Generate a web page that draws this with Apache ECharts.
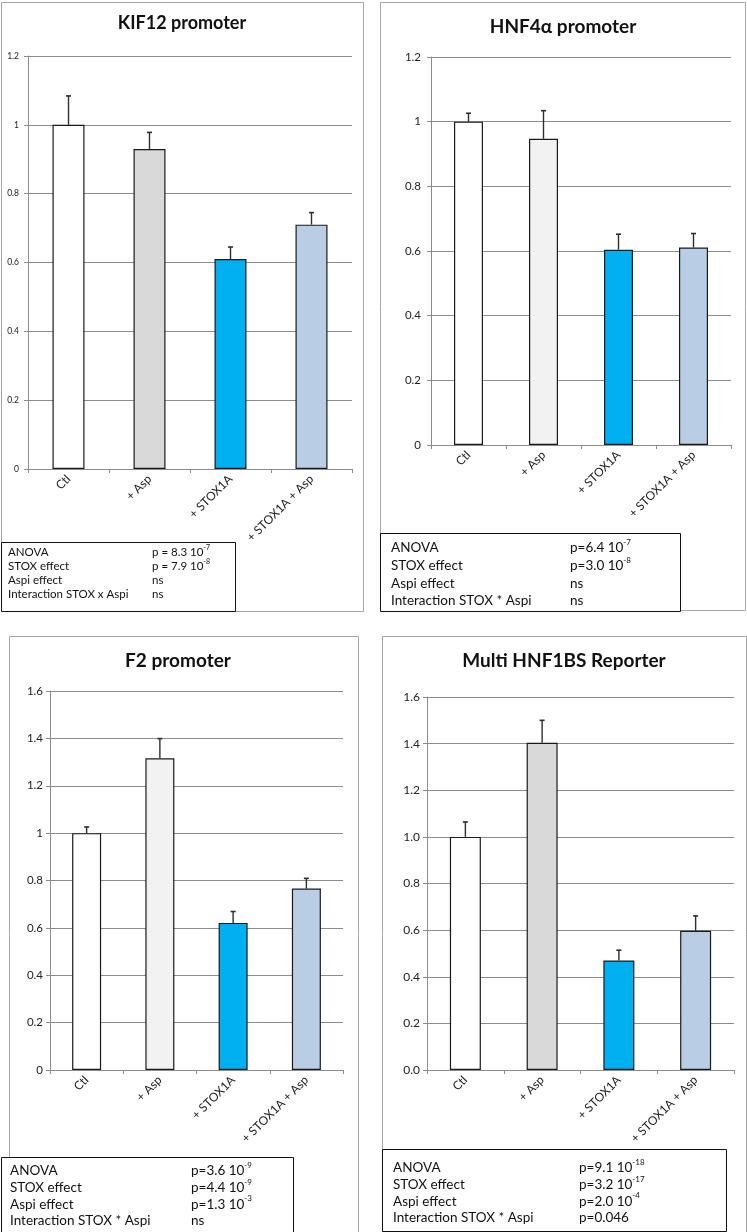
<!DOCTYPE html>
<html><head><meta charset="utf-8">
<script src="https://cdn.jsdelivr.net/npm/echarts@6/dist/echarts.min.js"></script>
<style>html,body{margin:0;padding:0;background:#fff}#c{width:747px;height:1232px}</style>
</head><body><div id="c"></div>
<script>
// ---------- DATA ----------
const categories = ['Ctl', '+ Asp', '+ STOX1A', '+ STOX1A + Asp'];

const kif12Values = [1.0, 0.93, 0.61, 0.71];
const kif12Errors = [0.084, 0.048, 0.035, 0.035];
const hnf4aValues = [1.0, 0.947, 0.604, 0.611];
const hnf4aErrors = [0.026, 0.087, 0.048, 0.043];
const f2Values = [1.0, 1.316, 0.621, 0.766];
const f2Errors = [0.026, 0.083, 0.048, 0.043];
const hnf1bsValues = [1.0, 1.404, 0.470, 0.597];
const hnf1bsErrors = [0.064, 0.096, 0.044, 0.064];

const kif12StatNames = ['ANOVA', 'STOX effect', 'Aspi effect', 'Interaction STOX x Aspi'];
const kif12StatValues = ['p = 8.3 10^-7', 'p = 7.9 10^-8', 'ns', 'ns'];
const hnf4aStatNames = ['ANOVA', 'STOX effect', 'Aspi effect', 'Interaction STOX * Aspi'];
const hnf4aStatValues = ['p=6.4 10^-7', 'p=3.0 10^-8', 'ns', 'ns'];
const f2StatNames = ['ANOVA', 'STOX effect', 'Aspi effect', 'Interaction STOX * Aspi'];
const f2StatValues = ['p=3.6 10^-9', 'p=4.4 10^-9', 'p=1.3 10^-3', 'ns'];
const hnf1bsStatNames = ['ANOVA', 'STOX effect', 'Aspi effect', 'Interaction STOX * Aspi'];
const hnf1bsStatValues = ['p=9.1 10^-18', 'p=3.2 10^-17', 'p=2.0 10^-4', 'p=0.046'];

const yTicksKif12 = { max: 1.2, step: 0.2 };
const yTicksHnf4a = { max: 1.2, step: 0.2 };
const yTicksF2 = { max: 1.6, step: 0.2 };
const yTicksHnf1bs = { max: 1.6, step: 0.2 };

// ---------- LAYOUT / STYLE ----------
const FONT = 'Lato';
const panels = [
  { title: 'KIF12 promoter', values: kif12Values, errors: kif12Errors, yt: yTicksKif12,
    names: kif12StatNames, stats: kif12StatValues,
    colors: ['#ffffff', '#d9d9d9', '#00b0f0', '#b9cde5'],
    box: [1, 2, 362, 609], titleXY: [182, 23], titleSize: 18,
    grid: { left: 28, top: 56, width: 324, height: 413 }, barWidth: 32,
    yFont: 8.5, yMargin: 9, xFont: 12, yFmt: null,
    table: [1, 542, 234, 69], tFont: 11.5, tRow0: 552, tRowH: 14, tCol1: 8, tCol2: 152 },
  { title: 'HNF4\u03b1 promoter', values: hnf4aValues, errors: hnf4aErrors, yt: yTicksHnf4a,
    names: hnf4aStatNames, stats: hnf4aStatValues,
    colors: ['#ffffff', '#f2f2f2', '#00b0f0', '#b9cde5'],
    box: [380, 2, 365, 608], titleXY: [563, 27], titleSize: 19,
    grid: { left: 431, top: 57, width: 300, height: 388 }, barWidth: 29,
    yFont: 11.5, yMargin: 10, xFont: 12, yFmt: null,
    table: [380, 533, 300, 78], tFont: 13.5, tRow0: 548, tRowH: 17.7, tCol1: 391, tCol2: 570 },
  { title: 'F2 promoter', values: f2Values, errors: f2Errors, yt: yTicksF2,
    names: f2StatNames, stats: f2StatValues,
    colors: ['#ffffff', '#f2f2f2', '#00b0f0', '#b9cde5'],
    box: [9, 636, 349, 596], titleXY: [178, 661], titleSize: 19,
    grid: { left: 50, top: 691, width: 293, height: 379 }, barWidth: 29,
    yFont: 11.5, yMargin: 7, xFont: 12, yFmt: null,
    table: [1, 1157, 292, 75], tFont: 13.5, tRow0: 1171, tRowH: 16.7, tCol1: 10, tCol2: 191 },
  { title: 'Multi HNF1BS Reporter', values: hnf1bsValues, errors: hnf1bsErrors, yt: yTicksHnf1bs,
    names: hnf1bsStatNames, stats: hnf1bsStatValues,
    colors: ['#ffffff', '#d9d9d9', '#00b0f0', '#b9cde5'],
    box: [382, 636, 364, 596], titleXY: [564, 661], titleSize: 19,
    grid: { left: 427, top: 697, width: 307, height: 373 }, barWidth: 31,
    yFont: 12, yMargin: 7, xFont: 12, yFmt: v => v.toFixed(1),
    table: [382, 1149, 344, 82], tFont: 13.5, tRow0: 1168, tRowH: 16.7, tCol1: 393, tCol2: 579 }
];

function toRich(s) {
  const i = s.indexOf('^');
  if (i < 0) return s;
  return s.slice(0, i) + '{sup|' + s.slice(i + 1) + '}';
}

function renderErr(params, api) {
  const x = api.value(0), v = api.value(1), t = api.value(2);
  const p0 = api.coord([x, v]);
  const p1 = api.coord([x, t]);
  return { type: 'group', children: [
    { type: 'line', shape: { x1: p0[0], y1: p0[1], x2: p1[0], y2: p1[1] }, style: { stroke: '#2e2e2e', lineWidth: 1.4 } },
    { type: 'line', shape: { x1: p1[0] - 2.5, y1: p1[1], x2: p1[0] + 2.5, y2: p1[1] }, style: { stroke: '#2e2e2e', lineWidth: 1.6 } }
  ]};
}

const grids = [], xAxes = [], yAxes = [], series = [], graphics = [];
panels.forEach((p, k) => {
  grids.push(p.grid);
  xAxes.push({
    type: 'category', gridIndex: k, data: categories, boundaryGap: true,
    axisLine: { lineStyle: { color: '#8c8c8c', width: 1 } },
    axisTick: { show: true, length: 4, alignWithLabel: false, lineStyle: { color: '#8c8c8c' } },
    axisLabel: { rotate: 45, interval: 0, fontFamily: FONT, fontSize: p.xFont, color: '#222', margin: 8 }
  });
  yAxes.push({
    type: 'value', gridIndex: k, min: 0, max: p.yt.max, interval: p.yt.step,
    axisLine: { show: true, lineStyle: { color: '#8c8c8c', width: 1 } },
    axisTick: { show: true, length: 4, lineStyle: { color: '#8c8c8c' } },
    splitLine: { show: true, lineStyle: { color: '#8c8c8c', width: 1 } },
    axisLabel: { fontFamily: FONT, fontSize: p.yFont, color: '#222', margin: p.yMargin,
      formatter: p.yFmt ? p.yFmt : (v => String(Math.round(v * 10) / 10)) }
  });
  series.push({
    type: 'bar', xAxisIndex: k, yAxisIndex: k, barWidth: p.barWidth, z: 2,
    data: p.values.map((v, i) => ({ value: v, itemStyle: { color: p.colors[i] } })),
    itemStyle: { borderColor: '#1a1a1a', borderWidth: 1.2 },
    emphasis: { disabled: true }, silent: true
  });
  series.push({
    type: 'custom', xAxisIndex: k, yAxisIndex: k, z: 3, silent: true,
    renderItem: renderErr, encode: { x: 0, y: [1, 2] },
    data: p.values.map((v, i) => [i, v, v + p.errors[i]])
  });
  graphics.push({ type: 'rect', shape: { x: p.box[0] + 0.5, y: p.box[1] + 0.5, width: p.box[2], height: p.box[3] },
    style: { fill: 'none', stroke: '#a6a6a6', lineWidth: 1 }, z: 0 });
  graphics.push({ type: 'text', x: p.titleXY[0], y: p.titleXY[1], z: 5,
    style: { text: p.title, fontFamily: FONT, fontWeight: 'bold', fontSize: p.titleSize, fill: '#111', align: 'center', verticalAlign: 'middle' } });
  graphics.push({ type: 'rect', shape: { x: p.table[0] + 0.5, y: p.table[1] + 0.5, width: p.table[2], height: p.table[3] },
    style: { fill: '#fff', stroke: '#111', lineWidth: 1 }, z: 5 });
  p.names.forEach((n, r) => {
    const y = p.tRow0 + r * p.tRowH;
    graphics.push({ type: 'text', x: p.tCol1, y: y, z: 6,
      style: { text: n, fontFamily: FONT, fontSize: p.tFont, fill: '#111', align: 'left', verticalAlign: 'middle' } });
    graphics.push({ type: 'text', x: p.tCol2, y: y, z: 6,
      style: { text: toRich(p.stats[r]), fontFamily: FONT, fontSize: p.tFont, fill: '#111', align: 'left', verticalAlign: 'middle',
        rich: { sup: { fontFamily: FONT, fontSize: Math.round(p.tFont * 0.62), fill: '#111', verticalAlign: 'top',
          padding: [0, 0, Math.round(p.tFont * 0.8), 0] } } } });
  });
});

const chart = echarts.init(document.getElementById('c'), null, { renderer: 'canvas' });
chart.setOption({
  animation: false,
  backgroundColor: '#ffffff',
  grid: grids, xAxis: xAxes, yAxis: yAxes, series: series,
  graphic: { elements: graphics }
});
</script></body></html>
